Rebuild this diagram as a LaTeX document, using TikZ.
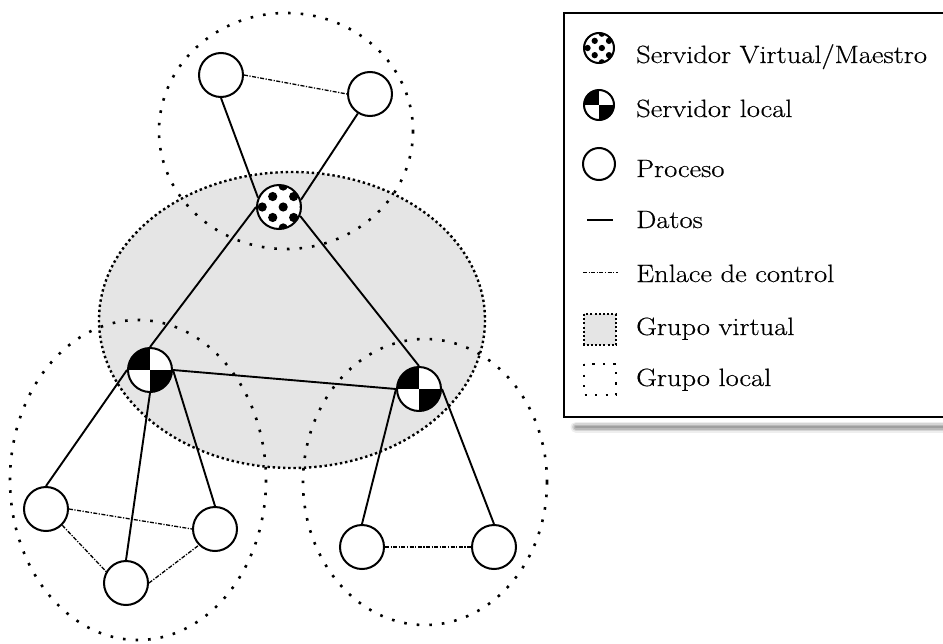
\documentclass[tikz,border=0pt]{standalone}
\usepackage{fontspec}
\setmainfont{Latin Modern Roman}[FakeStretch=1.14, FakeBold=0.5]
\begin{document}
\begin{tikzpicture}[x=1pt,y=-1pt,
  process/.style={circle, draw, line width=2pt, minimum size=#1, inner sep=0pt, fill=white},
  process/.default=44pt,
  vserver/.style={circle, draw, line width=2pt, minimum size=#1, inner sep=0pt, fill=white,
    path picture={
      \begin{scope}[shift={(path picture bounding box.center)}, x=#1/42, y=#1/42]
        \foreach \r in {-2,...,2}{
          \pgfmathsetmacro{\off}{isodd(\r) ? -6 : 4}
          \foreach \k in {-2,-1,0,1}{
            \fill[black] (\off+20*\k, 10*\r) circle [radius=4.4];
          }
        }
      \end{scope}}},
  vserver/.default=44pt,
  lserver/.style={circle, draw, line width=2pt, minimum size=#1, inner sep=0pt, fill=white,
    path picture={
      \fill[black] (path picture bounding box.north west) rectangle (path picture bounding box.center);
      \fill[black] (path picture bounding box.center) rectangle (path picture bounding box.south east);}},
  lserver/.default=44pt,
  datalink/.style={line width=1.9pt},
  ctrllink/.style={line width=1.3pt, dash pattern=on 4pt off 1.5pt on 1.2pt off 1.5pt},
  lgroup/.style={line width=2.6pt, dash pattern=on 2.6pt off 10pt},
  lgroupkey/.style={line width=2.2pt, dash pattern=on 2.2pt off 8.3pt},
  vgroup/.style={line width=2.4pt, dash pattern=on 2.4pt off 2.8pt, fill=black!10},
  vgroupkey/.style={line width=2pt, dash pattern=on 2pt off 2.2pt, fill=black!10},
  legtext/.style={anchor=base west, inner sep=0pt, font=\fontsize{25}{30}\selectfont}]

\useasboundingbox (0,0) rectangle (943,643);
\clip (0,0) rectangle (943,643);

% groups: virtual group first, then the local groups on top of it
\path[vgroup, draw] (292,320) ellipse [x radius=193, y radius=148];
\draw[lgroup] (286,131) ellipse [x radius=127, y radius=118];
\draw[lgroup] (138,480) ellipse [x radius=128, y radius=160];
\draw[lgroup] (425,482) ellipse [x radius=122, y radius=143];

% servers
\node[vserver] (M) at (279,207) {};
\node[lserver] (L) at (150,370) {};
\node[lserver] (R) at (419,389) {};

% processes
\node[process] (TL) at (221,75) {};
\node[process] (TR) at (370,94) {};
\node[process] (B1) at (46,509) {};
\node[process] (B2) at (215,529) {};
\node[process] (B3) at (126,583) {};
\node[process] (C1) at (362,547) {};
\node[process] (C2) at (494,547) {};

% data links
\draw[datalink] (TL.south) -- (M.156);
\draw[datalink] (M.18) -- (TR.238);
\draw[datalink] (L.north) -- (M.west);
\draw[datalink] (M.337) -- (R.north);
\draw[datalink] (L.east) -- (R.west);
\draw[datalink] (L.west) -- (B1.north);
\draw[datalink] (L.south) -- (B3.north);
\draw[datalink] (L.east) -- (B2.north);
\draw[datalink] (R.west) -- (C1.north);
\draw[datalink] (R.east) -- (C2.north);

% control links
\draw[ctrllink] (TL.east) -- (TR.west);
\draw[ctrllink] (B1.east) -- (B2.west);
\draw[ctrllink] (B1.south east) -- (B3.150);
\draw[ctrllink] (B3.east) -- (B2.south west);
\draw[ctrllink] (C1.east) -- (C2.west);

% legend frame with its shadow
\foreach \w/\o in {11/0.12, 8/0.2, 5/0.3, 2.5/0.35}
  \draw[line width=\w pt, black!55, opacity=\o, line cap=round] (576,427) -- (960,427);
\draw[line width=1.5pt, fill=white] (564,13) rectangle (960,417);

% legend keys
\node[vserver=30pt] (k1) at (599,48) {};
\node[lserver=30pt] (k2) at (599,105) {};
\node[process=32pt] (k3) at (599,164) {};
\coordinate (k4a) at (587,220); \coordinate (k4b) at (613,220);
\draw[datalink, line width=1.5pt] (k4a) -- (k4b);
\coordinate (k5a) at (583,272); \coordinate (k5b) at (618,272);
\draw[ctrllink, line width=1pt] (k5a) -- (k5b);
\path[vgroupkey, draw] (584,314) rectangle (616,345);
\draw[lgroupkey] (584,364) rectangle (616,395);

% legend texts
\node[legtext] (t1) at (636,63) {Servidor Virtual/Maestro};
\node[legtext] (t2) at (636,117) {Servidor local};
\node[legtext] (t3) at (636,177) {Proceso};
\node[legtext] (t4) at (636,228) {Datos};
\node[legtext] (t5) at (636,282) {Enlace de control};
\node[legtext] (t6) at (636,335) {Grupo virtual};
\node[legtext] (t7) at (636,386) {Grupo local};
\end{tikzpicture}
\end{document}
